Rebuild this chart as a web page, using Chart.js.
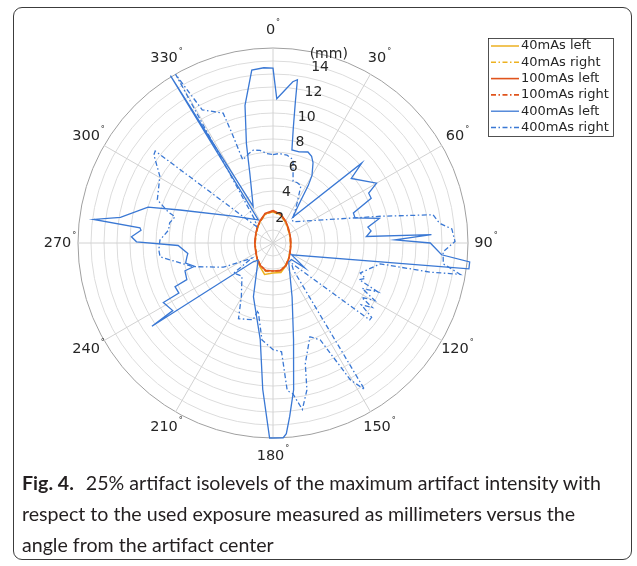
<!DOCTYPE html>
<html>
<head>
<meta charset="utf-8">
<script src="https://cdn.jsdelivr.net/npm/chart.js@4.4.1/dist/chart.umd.min.js"></script>
<style>
    html, body { margin: 0; padding: 0; background: #fff; }
    #page { position: relative; width: 637px; height: 566px; overflow: hidden; }
    #frame { position: absolute; left: 13px; top: 7px; width: 619px; height: 553px; box-sizing: border-box;
             border: 1.3px solid #3c3c3c; border-radius: 9px; }
    #polar { position: absolute; left: 0; top: 0; }
    #caption { position: absolute; left: 22px; top: 467px; width: 620px; font-family: Lato, "Open Sans", sans-serif;
               font-size: 19.6px; line-height: 31px; color: #231f20; white-space: nowrap; }
    #caption b { font-weight: 700; margin-right: 7px; }
</style>
</head>
<body>
<div id="page">
    <div id="frame"></div>
    <canvas id="polar" width="637" height="470"></canvas>
    <div id="caption">
        <b>Fig. 4.</b> 25% artifact isolevels of the maximum artifact intensity with<br>
        respect to the used exposure measured as millimeters versus the<br>
        angle from the artifact center
    </div>
</div>
<script>
// valores (angulo em graus, raio em mm)
const angleTicks = [0, 30, 60, 90, 120, 150, 180, 210, 240, 270, 300, 330];
const radiusTicks = [2, 4, 6, 8, 10, 12, 14];
const seriesNames = ['40mAs left', '40mAs right', '100mAs left', '100mAs right', '400mAs left', '400mAs right'];

const ellipseDeg = [0, 15, 30, 45, 60, 75, 90, 105, 120, 135, 150, 165, 180, 195, 210, 225, 240, 255, 270, 285, 300, 315, 330, 345];
const left40R   = [2.45, 2.25, 1.9, 1.62, 1.45, 1.38, 1.36, 1.4, 1.5, 1.7, 2.0, 2.35, 2.3, 2.5, 2.05, 1.75, 1.5, 1.4, 1.38, 1.4, 1.5, 1.68, 1.95, 2.3];
const right40R  = [2.4, 2.2, 1.88, 1.6, 1.44, 1.36, 1.35, 1.38, 1.48, 1.68, 1.95, 2.2, 2.2, 2.25, 1.95, 1.7, 1.5, 1.4, 1.37, 1.38, 1.48, 1.66, 1.93, 2.28];
const left100R  = [2.5, 2.28, 1.95, 1.66, 1.48, 1.4, 1.36, 1.4, 1.52, 1.72, 2.0, 2.2, 2.15, 2.18, 1.98, 1.72, 1.52, 1.42, 1.4, 1.42, 1.52, 1.7, 1.98, 2.35];
const right100R = [2.45, 2.3, 1.92, 1.64, 1.46, 1.38, 1.36, 1.39, 1.5, 1.7, 1.98, 2.18, 2.15, 2.2, 1.96, 1.7, 1.5, 1.4, 1.38, 1.4, 1.5, 1.7, 1.96, 2.32];

const left400Deg = [0, 1.5, 4.5, 7, 8.5, 9, 10, 11.5, 16, 21, 24, 26.5, 30, 31.5, 34, 37.5, 48, 50.5, 60, 62.5, 65.5, 69.5, 73, 77, 80.5, 83, 86, 87, 88.5, 90, 94, 95.5, 97.5,
    122.5, 128, 132, 140.5, 160.5, 168, 172, 174.5, 176, 177, 181, 184, 187.5, 200, 221, 226.5, 235.5, 236, 241.5, 242, 246, 247, 252.5, 253.5, 257, 261, 263, 268.5,
    270.5, 272.5, 275.5, 276.5, 277.5, 279.5, 286, 289.5, 304, 327.5, 328.5, 331.5, 341.5, 345, 348.5, 353, 357];
const left400R = [13.45, 11.1, 11.8, 12.5, 12.7, 11.0, 9.0, 7.3, 7.3, 7.5, 7.3, 6.9, 6.0, 5.2, 3.5, 2.5, 9.2, 7.8, 9.2, 8.3, 8.3, 6.6, 6.6, 8.4, 7.4, 7.6, 7.2, 12.2, 9.4, 12.1, 13.0, 15.2, 15.2,
    1.7, 3.1, 1.9, 1.9, 4.4, 7.6, 11.4, 13.4, 14.7, 15.0, 15.0, 11.3, 7.5, 4.4, 1.75, 2.1, 11.3, 9.3, 9.6, 8.2, 8.25, 7.2, 7.1, 6.3, 6.9, 6.7, 6.6, 7.3,
    10.5, 10.9, 10.2, 10.3, 13.9, 11.9, 10.0, 7.6, 3.7, 2.1, 15.1, 3.2, 5.6, 7.9, 10.8, 13.4, 13.5];

const right400Deg = [0, 4, 9, 13.5, 18, 22, 26, 31, 41, 43.5, 76, 80, 82.5, 83.5, 85.5, 89.5, 93, 97, 99.5, 100.5, 101, 109, 111, 113, 115, 117, 119.5, 121.5, 123, 125, 127, 128.5,
    137.5, 143, 148, 150.5, 154, 158.5, 165, 167, 170, 172.5, 174.5, 175.5, 180, 186.5, 192.5, 194.5, 204.5, 210.5, 223, 232.5, 234.5, 244, 253.5, 257, 263, 266.5,
    271.5, 277, 281, 285, 286.5, 290.5, 300.5, 306.5, 308, 315, 322, 330, 332, 339, 339.5, 340, 344.5, 348, 352, 356];
const right400R = [6.8, 6.9, 6.85, 6.6, 5.0, 5.0, 4.9, 3.6, 2.3, 2.25, 8.5, 12.5, 12.8, 13.0, 13.8, 14.0, 13.1, 13.2, 14.6, 12.3, 8.4, 7.1, 7.6, 7.2, 8.9, 7.7, 9.0, 8.0, 9.1, 8.3, 9.5, 9.5,
    2.1, 2.6, 13.3, 12.1, 8.3, 7.75, 9.6, 11.6, 13.0, 11.7, 11.4, 8.4, 8.2, 7.5, 5.3, 6.1, 6.4, 4.8, 3.5, 3.8, 2.0, 4.25, 6.4, 7.1, 8.75, 8.8,
    8.7, 8.1, 8.1, 7.8, 8.4, 9.5, 10.1, 11.4, 11.5, 1.8, 2.25, 15.0, 11.6, 10.7, 9.0, 6.8, 7.1, 7.3, 7.2, 6.9];

const STEP = 0.5;
const N = 360 / STEP;
const angleLabels = Array.from({ length: N }, (_, i) => i * STEP);

// coloca os pares (angulo, raio) na posicao certa do radar; o resto fica vazio
function toRadar(degs, radii) {
    const data = new Array(N).fill(null);
    degs.forEach((a, k) => { data[Math.round(a / STEP) % N] = radii[k]; });
    return data;
}

const cores = { amarelo: '#edb120', vermelho: '#e0541c', azul: '#3a78d4' };
const tracoPonto = [5, 2.5, 1.5, 2.5];

const serie = (label, data, color, dash, width, order) => ({
    label, data, borderColor: color, borderDash: dash, borderWidth: width,
    fill: false, spanGaps: true, pointRadius: 0, tension: 0, clip: false, order
});

const datasets = [
    serie(seriesNames[0], toRadar(ellipseDeg, left40R), cores.amarelo, [], 1.5, 6),
    serie(seriesNames[1], toRadar(ellipseDeg, right40R), cores.amarelo, tracoPonto, 1.5, 5),
    serie(seriesNames[2], toRadar(ellipseDeg, left100R), cores.vermelho, [], 1.6, 4),
    serie(seriesNames[3], toRadar(ellipseDeg, right100R), cores.vermelho, tracoPonto, 1.6, 3),
    serie(seriesNames[4], toRadar(left400Deg, left400R), cores.azul, [], 1.3, 2),
    serie(seriesNames[5], toRadar(right400Deg, right400R), cores.azul, tracoPonto, 1.3, 1)
];

const textColor = '#262626';

const rotulosPolares = {
    id: 'rotulosPolares',
    afterDatasetsDraw(chart) {
        const scale = chart.scales.r;
        const ctx = chart.ctx;
        ctx.save();
        ctx.fillStyle = textColor;
        ctx.textBaseline = 'middle';

        // angulos com o grau sobrescrito
        angleTicks.forEach(a => {
            const p = scale.getPointPosition(Math.round(a / STEP), scale.drawingArea + 18);
            ctx.font = '14.5px "DejaVu Sans"';
            const wNum = ctx.measureText(String(a)).width;
            ctx.font = '8px "DejaVu Sans"';
            const wDeg = ctx.measureText('\u00B0').width;
            const x0 = p.x - (wNum + wDeg + 1) / 2;
            ctx.textAlign = 'left';
            ctx.font = '14.5px "DejaVu Sans"';
            ctx.fillText(String(a), x0, p.y);
            ctx.font = '8px "DejaVu Sans"';
            ctx.fillText('\u00B0', x0 + wNum + 1, p.y - 7);
        });

        // rotulos do raio ao longo de 15 graus
        ctx.textAlign = 'center';
        ctx.font = '14px "DejaVu Sans"';
        const idxRaio = Math.round(15 / STEP);
        radiusTicks.forEach(v => {
            const p = scale.getPointPosition(idxRaio, scale.getDistanceFromCenterForValue(v));
            ctx.fillText(String(v), p.x, p.y);
        });
        const pmm = scale.getPointPosition(Math.round(16.5 / STEP), scale.getDistanceFromCenterForValue(15.1));
        ctx.fillText('(mm)', pmm.x, pmm.y);
        ctx.restore();
    }
};

const legendaCaixa = {
    id: 'legendaCaixa',
    afterDraw(chart) {
        const ctx = chart.ctx;
        const x = 488, y = 38, w = 125, h = 98, linha = 16.3;
        ctx.save();
        ctx.fillStyle = '#fff';
        ctx.fillRect(x, y, w, h);
        ctx.strokeStyle = '#262626';
        ctx.lineWidth = 0.8;
        ctx.strokeRect(x + 0.5, y + 0.5, w, h);
        ctx.font = '13px "DejaVu Sans"';
        ctx.textBaseline = 'middle';
        ctx.fillStyle = textColor;
        chart.data.datasets.forEach((ds, i) => {
            const cy = y + 8 + i * linha;
            ctx.strokeStyle = ds.borderColor;
            ctx.lineWidth = ds.borderWidth;
            ctx.setLineDash(ds.borderDash);
            ctx.beginPath();
            ctx.moveTo(x + 3, cy);
            ctx.lineTo(x + 31, cy);
            ctx.stroke();
            ctx.setLineDash([]);
            ctx.fillText(ds.label, x + 33, cy);
        });
        ctx.restore();
    }
};

new Chart(document.getElementById('polar'), {
    type: 'radar',
    data: { labels: angleLabels, datasets },
    options: {
        responsive: false,
        animation: false,
        devicePixelRatio: 1,
        layout: { padding: { left: 78, top: 48, right: 169, bottom: 32 } },
        plugins: { legend: { display: false }, tooltip: { enabled: false } },
        scales: {
            r: {
                min: 0,
                max: 15,
                ticks: { display: false, stepSize: 1 },
                pointLabels: { display: false },
                grid: {
                    circular: true,
                    color: ctx => (ctx.tick && ctx.tick.value === 15) ? '#a0a0a0' : '#dcdcdc',
                    lineWidth: 1
                },
                angleLines: {
                    color: '#d2d2d2',
                    lineWidth: ctx => (ctx.index % Math.round(30 / STEP) === 0) ? 1 : 0
                }
            }
        }
    },
    plugins: [rotulosPolares, legendaCaixa]
});
</script>
</body>
</html>
